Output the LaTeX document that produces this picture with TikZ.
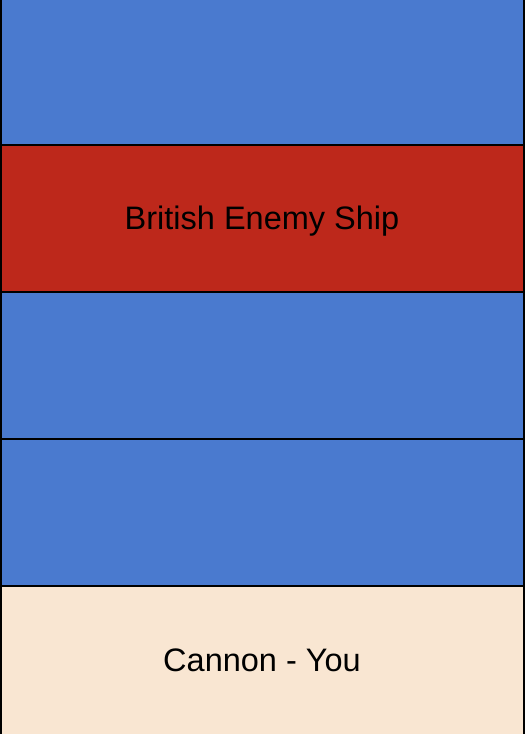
\documentclass[tikz,border=0pt]{standalone}
\usepackage{fontspec}
\setmainfont{Liberation Sans}
\usetikzlibrary{positioning}
\definecolor{seablue}{RGB}{74,122,207}
\definecolor{shipred}{RGB}{189,40,27}
\definecolor{sandcream}{RGB}{249,230,210}

\begin{document}
\begin{tikzpicture}[x=1pt, y=-1pt,
    band/.style={rectangle, draw=black, line width=2pt, outer sep=0pt, inner sep=0pt, minimum width=523pt, minimum height=147pt, text height=23pt, text depth=2pt, align=center, font=\fontsize{32.5}{38}\selectfont},
    water/.style={band, fill=seablue},
    enemy/.style={band, fill=shipred},
    shore/.style={band, fill=sandcream, minimum height=149pt}
]
\useasboundingbox (0,0) rectangle (528,734);
\clip (0,0) rectangle (528,734);
\node[water] (sea1) at (262,71.5) {};
\node[enemy, below=0pt of sea1] (ship) {British Enemy Ship};
\node[water, below=0pt of ship] (sea2) {};
\node[water, below=0pt of sea2] (sea3) {};
\node[shore, below=0pt of sea3] (cannon) {Cannon - You};
\end{tikzpicture}
\end{document}
